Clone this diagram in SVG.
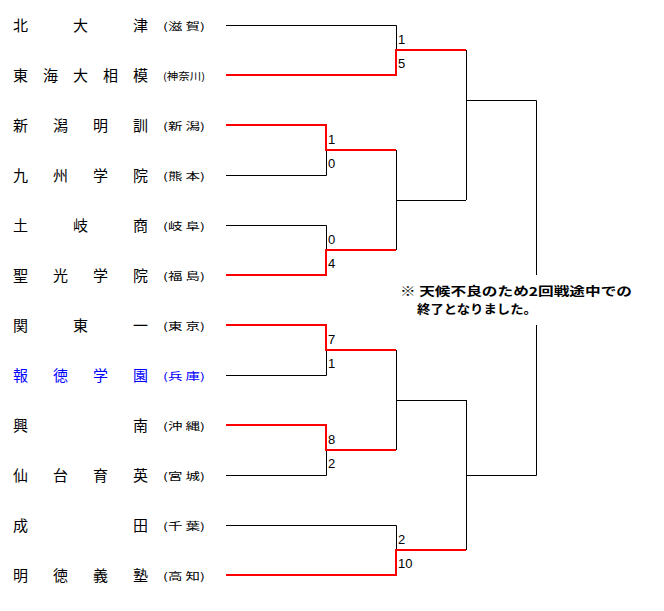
<svg xmlns="http://www.w3.org/2000/svg" width="664" height="611" viewBox="0 0 664 611">
<style>
.nm{font-family:"Noto Sans CJK JP","Noto Sans CJK SC",sans-serif;font-size:15px;fill:#000}
.pf{font-family:"Noto Sans CJK JP","Noto Sans CJK SC",sans-serif;font-size:10px;fill:#000}
.blue .nm,.blue .pf{fill:#0000ff}
.sc{font-family:"Liberation Sans",Arial,sans-serif;font-size:13px;fill:#000}
.note{font-family:"Noto Sans CJK JP","Noto Sans CJK SC",sans-serif;font-size:12px;font-weight:bold;fill:#000}
.bk{fill:none;stroke:#000;stroke-width:1}
.rd{fill:none;stroke:#ff0000;stroke-width:2}
</style>
<rect width="664" height="611" fill="#fff"/>
<g id="teams">
<g id="t1"><text class="nm" x="13 73 133" y="30.5">北大津</text><text class="pf" x="163" y="30" textLength="42" lengthAdjust="spacingAndGlyphs">(滋 賀)</text></g>
<g id="t2"><text class="nm" x="13 43 73 103 133" y="80.5">東海大相模</text><text class="pf" x="163" y="80" textLength="42" lengthAdjust="spacingAndGlyphs">(神奈川)</text></g>
<g id="t3"><text class="nm" x="13 53 93 133" y="130.5">新潟明訓</text><text class="pf" x="163" y="130" textLength="42" lengthAdjust="spacingAndGlyphs">(新 潟)</text></g>
<g id="t4"><text class="nm" x="13 53 93 133" y="180.5">九州学院</text><text class="pf" x="163" y="180" textLength="42" lengthAdjust="spacingAndGlyphs">(熊 本)</text></g>
<g id="t5"><text class="nm" x="13 73 133" y="230.5">土岐商</text><text class="pf" x="163" y="230" textLength="42" lengthAdjust="spacingAndGlyphs">(岐 阜)</text></g>
<g id="t6"><text class="nm" x="13 53 93 133" y="280.5">聖光学院</text><text class="pf" x="163" y="280" textLength="42" lengthAdjust="spacingAndGlyphs">(福 島)</text></g>
<g id="t7"><text class="nm" x="13 73 133" y="330.5">関東一</text><text class="pf" x="163" y="330" textLength="42" lengthAdjust="spacingAndGlyphs">(東 京)</text></g>
<g id="t8" class="blue"><text class="nm" x="13 53 93 133" y="380.5">報徳学園</text><text class="pf" x="163" y="380" textLength="42" lengthAdjust="spacingAndGlyphs">(兵 庫)</text></g>
<g id="t9"><text class="nm" x="13 133" y="430.5">興南</text><text class="pf" x="163" y="430" textLength="42" lengthAdjust="spacingAndGlyphs">(沖 縄)</text></g>
<g id="t10"><text class="nm" x="13 53 93 133" y="480.5">仙台育英</text><text class="pf" x="163" y="480" textLength="42" lengthAdjust="spacingAndGlyphs">(宮 城)</text></g>
<g id="t11"><text class="nm" x="13 133" y="530.5">成田</text><text class="pf" x="163" y="530" textLength="42" lengthAdjust="spacingAndGlyphs">(千 葉)</text></g>
<g id="t12"><text class="nm" x="13 53 93 133" y="580.5">明徳義塾</text><text class="pf" x="163" y="580" textLength="42" lengthAdjust="spacingAndGlyphs">(高 知)</text></g>
</g>
<g id="connectors">
<path class="bk" d="M226 25.5H396.5V50M226 175.5H326.5V150M226 225.5H326.5V250M396.5 150V250M396.5 200.5H466M466.5 50V200M466.5 100.5H536.5V275M226 375.5H326.5V350M226 475.5H326.5V450M396.5 350V450M396.5 400.5H466M226 525.5H396.5V550M466.5 400V550M466.5 475.5H536.5V325"/>
<path class="rd" d="M226 75H396V50H466M226 125H326V150H396M226 275H326V250H396M226 325H326V350H396M226 425H326V450H396M226 575H396V550H466"/>
</g>
<g id="scores">
<text class="sc" x="398" y="44">1</text><text class="sc" x="398" y="68">5</text>
<text class="sc" x="328" y="144">1</text><text class="sc" x="328" y="168">0</text>
<text class="sc" x="328" y="244">0</text><text class="sc" x="328" y="268">4</text>
<text class="sc" x="328" y="344">7</text><text class="sc" x="328" y="368">1</text>
<text class="sc" x="328" y="444">8</text><text class="sc" x="328" y="468">2</text>
<text class="sc" x="398" y="544">2</text><text class="sc" x="398" y="568">10</text>
</g>
<g id="note">
<text class="note" x="400" y="296" textLength="232" lengthAdjust="spacingAndGlyphs">※ 天候不良のため2回戦途中での</text>
<text class="note" x="417" y="314" textLength="120" lengthAdjust="spacingAndGlyphs">終了となりました。</text>
</g>
</svg>
